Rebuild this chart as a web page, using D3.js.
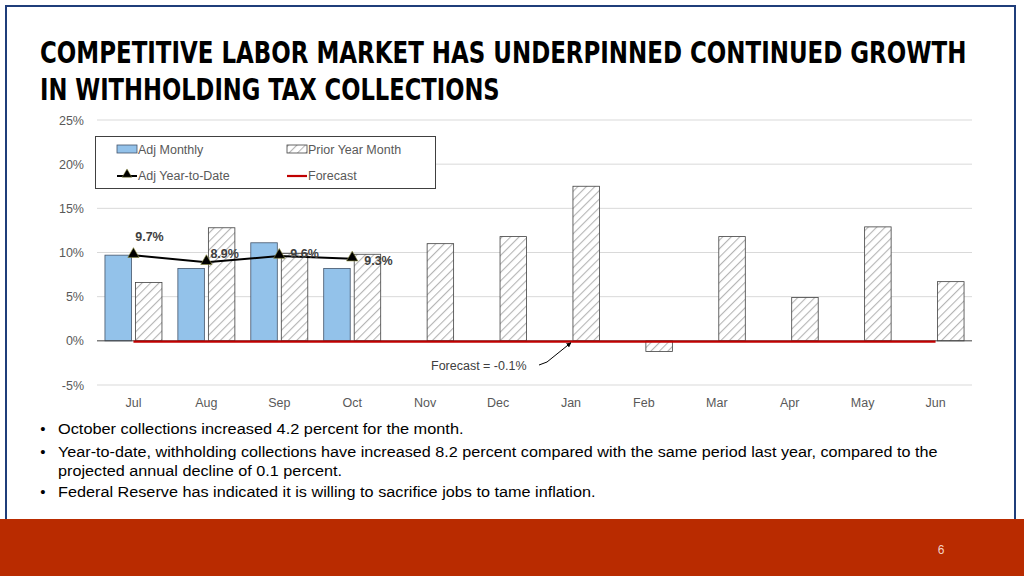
<!DOCTYPE html>
<html><head><meta charset="utf-8">
<script src="https://cdn.jsdelivr.net/npm/d3@7"></script>
<style>body{margin:0;background:#fff;}svg{display:block;}</style>
</head><body>
<svg id="c" width="1024" height="576"></svg>
<script>
const months = ["Jul","Aug","Sep","Oct","Nov","Dec","Jan","Feb","Mar","Apr","May","Jun"];
const adjMonthly = [9.7, 8.2, 11.1, 8.2, null, null, null, null, null, null, null, null];
const priorYear = [6.6, 12.8, 9.9, 9.8, 11.0, 11.8, 17.5, -1.2, 11.8, 4.9, 12.9, 6.7];
const adjYTD = [9.7, 8.9, 9.6, 9.3];
const ytdLabels = ["9.7%","8.9%","9.6%","9.3%"];
const forecast = -0.1;
const yTicks = [-5, 0, 5, 10, 15, 20, 25];
const titleLines = ["COMPETITIVE LABOR MARKET HAS UNDERPINNED CONTINUED GROWTH","IN WITHHOLDING TAX COLLECTIONS"];
const bullets = [
  ["October collections increased 4.2 percent for the month."],
  ["Year-to-date, withholding collections have increased 8.2 percent compared with the same period last year, compared to the","projected annual decline of 0.1 percent."],
  ["Federal Reserve has indicated it is willing to sacrifice jobs to tame inflation."]
];

const svg = d3.select("#c");
const font = "'Liberation Sans', Arial, sans-serif";
const defs = svg.append("defs");
const pat = defs.append("pattern").attr("id","hatch").attr("patternUnits","userSpaceOnUse")
  .attr("width",6).attr("height",6).attr("patternTransform","rotate(45)");
pat.append("rect").attr("width",6).attr("height",6).attr("fill","#fff");
pat.append("line").attr("x1",0).attr("y1",0).attr("x2",0).attr("y2",6).attr("stroke","#b5b5b5").attr("stroke-width",2.2);

// slide frame
svg.append("rect").attr("x",6).attr("y",6).attr("width",1009).attr("height",520)
  .attr("fill","#fff").attr("stroke","#1f3d7a").attr("stroke-width",2);
svg.append("rect").attr("x",0).attr("y",519).attr("width",1024).attr("height",57).attr("fill","#b92b00");
svg.append("text").attr("x",941).attr("y",554).attr("text-anchor","middle")
  .attr("font-family",font).attr("font-size",12).attr("fill","#f4d2c4").text("6");

// title (horizontally scaled condensed font)
const tl = svg.append("g");
const titleW = [927, 460];
titleLines.forEach((t,i)=>{
  const tx = tl.append("text").attr("x",0).attr("y",0)
    .attr("font-family","'DejaVu Sans Condensed','DejaVu Sans',sans-serif").attr("font-weight","bold")
    .attr("font-size",31).attr("fill","#000").text(t);
  const len = tx.node().getComputedTextLength();
  tx.attr("transform",`translate(40,${63+i*37}) scale(${titleW[i]/len},1)`);
});

// scales
const x = d3.scaleBand().domain(months).range([97,972]);
const y = d3.scaleLinear().domain([-5,25]).range([385,120]);
const cx = m => x(m)+x.bandwidth()/2;

// gridlines
svg.append("g").selectAll("line").data(yTicks.filter(d=>d!==0)).join("line")
  .attr("x1",97).attr("x2",972).attr("y1",d=>y(d)).attr("y2",d=>y(d))
  .attr("stroke","#d9d9d9").attr("stroke-width",1);

// y axis labels
const yAxis = d3.axisLeft(y).tickValues(yTicks).tickFormat(d=>d+"%").tickSize(0).tickPadding(0);
const ya = svg.append("g").attr("transform","translate(84,0)").call(yAxis);
ya.select(".domain").remove();
ya.selectAll("text").attr("font-family",font).attr("font-size",12.5).attr("fill","#595959");

// x axis labels
const xAxis = d3.axisBottom(x).tickSize(0).tickPadding(0);
const xa = svg.append("g").attr("transform","translate(0,398)").call(xAxis);
xa.select(".domain").remove();
xa.selectAll("text").attr("font-family",font).attr("font-size",12.5).attr("fill","#595959");

const bw = 26.5;
// adj monthly bars
svg.append("g").selectAll("rect").data(months.map((m,i)=>({m,v:adjMonthly[i]})).filter(d=>d.v!==null)).join("rect")
  .attr("x",d=>cx(d.m)-28.5).attr("width",bw)
  .attr("y",d=>y(Math.max(0,d.v))).attr("height",d=>Math.abs(y(d.v)-y(0)))
  .attr("fill","#93c2ea").attr("stroke","#44546a").attr("stroke-width",0.8);
// prior year bars
svg.append("g").selectAll("rect").data(months.map((m,i)=>({m,v:priorYear[i]}))).join("rect")
  .attr("x",d=>cx(d.m)+2).attr("width",bw)
  .attr("y",d=>y(Math.max(0,d.v))).attr("height",d=>Math.abs(y(d.v)-y(0)))
  .attr("fill","url(#hatch)").attr("stroke","#404040").attr("stroke-width",0.8);

// zero line
svg.append("line").attr("x1",97).attr("x2",972).attr("y1",y(0)).attr("y2",y(0))
  .attr("stroke","#404040").attr("stroke-width",1);

// forecast line
svg.append("line").attr("x1",cx("Jul")).attr("x2",cx("Jun")).attr("y1",y(forecast)).attr("y2",y(forecast))
  .attr("stroke","#c00000").attr("stroke-width",2.2);

// YTD line
const line = d3.line().x((d,i)=>cx(months[i])).y(d=>y(d));
svg.append("path").attr("d",line(adjYTD)).attr("fill","none").attr("stroke","#000").attr("stroke-width",2);
const tri = d3.symbol().type(d3.symbolTriangle).size(55);
svg.append("g").selectAll("path").data(adjYTD).join("path")
  .attr("transform",(d,i)=>`translate(${cx(months[i])},${y(d)-1})`).attr("d",tri)
  .attr("fill","#000").attr("stroke","#8a8a3a").attr("stroke-width",0.6);
// YTD labels
const lblOff = [[0,-18,"middle"],[4,-8,"start"],[11,-2,"start"],[12,2,"start"]];
svg.append("g").selectAll("text").data(adjYTD).join("text")
  .attr("x",(d,i)=>cx(months[i])+lblOff[i][0]+(i===0?16:0))
  .attr("y",(d,i)=>y(d)+lblOff[i][1]+4)
  .attr("text-anchor",(d,i)=>lblOff[i][2])
  .attr("font-family",font).attr("font-weight","bold").attr("font-size",12.5).attr("fill","#404040")
  .text((d,i)=>ytdLabels[i]);

// forecast annotation
svg.append("text").attr("x",431).attr("y",370).attr("font-family",font).attr("font-size",12.5).attr("fill","#404040")
  .text("Forecast = -0.1%");
defs.append("marker").attr("id","arr").attr("viewBox","0 0 10 10").attr("refX",9).attr("refY",5)
  .attr("markerWidth",5).attr("markerHeight",5).attr("orient","auto")
  .append("path").attr("d","M0,0L10,5L0,10z").attr("fill","#000");
svg.append("path").attr("d",`M539,365 L547,362 L${cx("Jan")},${y(forecast)+1}`)
  .attr("fill","none").attr("stroke","#000").attr("stroke-width",1).attr("marker-end","url(#arr)");

// legend
const lg = svg.append("g");
lg.append("rect").attr("x",95.5).attr("y",136.5).attr("width",340).attr("height",52)
  .attr("fill","#fff").attr("stroke","#404040").attr("stroke-width",1);
lg.append("rect").attr("x",117).attr("y",145).attr("width",20).attr("height",8)
  .attr("fill","#93c2ea").attr("stroke","#44546a").attr("stroke-width",0.8);
lg.append("rect").attr("x",287).attr("y",145).attr("width",20).attr("height",8)
  .attr("fill","url(#hatch)").attr("stroke","#404040").attr("stroke-width",0.8);
lg.append("line").attr("x1",117).attr("x2",137).attr("y1",176).attr("y2",176).attr("stroke","#000").attr("stroke-width",2);
lg.append("path").attr("transform","translate(127,174.5)").attr("d",d3.symbol().type(d3.symbolTriangle).size(40)())
  .attr("fill","#000").attr("stroke","#8a8a3a").attr("stroke-width",0.5);
lg.append("line").attr("x1",287).attr("x2",307).attr("y1",176).attr("y2",176).attr("stroke","#c00000").attr("stroke-width",2.2);
[["Adj Monthly",138,154],["Prior Year Month",308,154],["Adj Year-to-Date",138,180],["Forecast",308,180]].forEach(d=>{
  lg.append("text").attr("x",d[1]).attr("y",d[2]).attr("font-family",font).attr("font-size",12.5)
    .attr("fill","#595959").text(d[0]);
});

// bullets
const bl = svg.append("g");
let by = [434, 457, 497];
const widths = [[406],[880,284],[538]];
bullets.forEach((b,i)=>{
  bl.append("text").attr("x",43).attr("y",by[i]).attr("text-anchor","middle").attr("font-family",font)
    .attr("font-size",15).attr("fill","#000").text("•");
  b.forEach((ln,j)=>{
    const t = bl.append("text").attr("x",0).attr("y",0).attr("font-family",font)
      .attr("font-size",15.5).attr("fill","#000").text(ln);
    const len = t.node().getComputedTextLength();
    t.attr("transform",`translate(58,${by[i]+j*19}) scale(${widths[i][j]/len},1)`);
  });
});
</script>
</body></html>
